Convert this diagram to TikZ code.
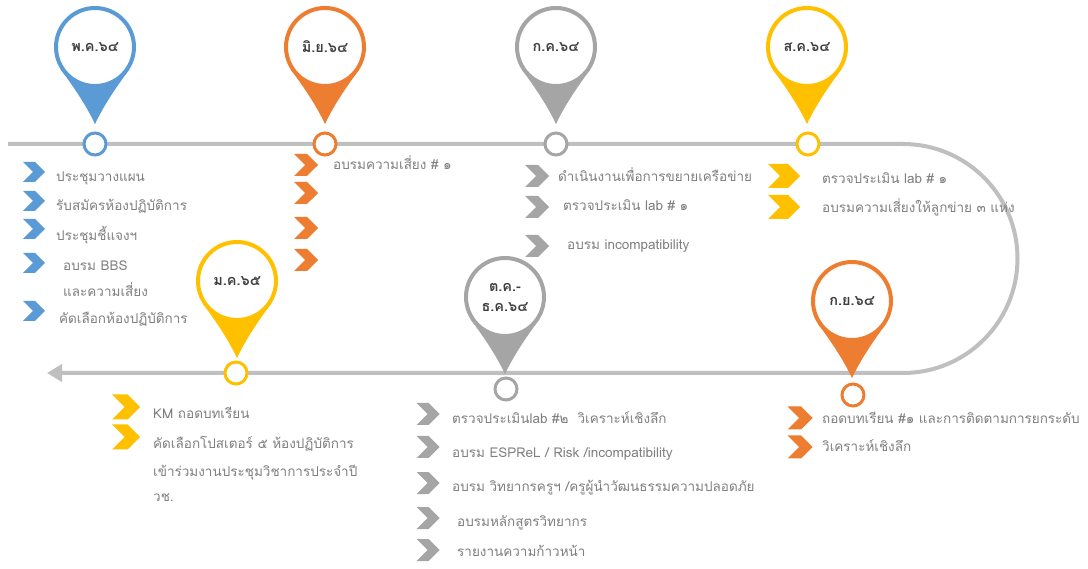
\documentclass[tikz,border=0pt]{standalone}
\usepackage{fontspec}
\setmainfont[Script=Thai]{Loma}
\usetikzlibrary{shapes.symbols,arrows.meta}
\definecolor{cblue}{HTML}{5B9BD5}
\definecolor{corange}{HTML}{ED7D31}
\definecolor{cgray}{HTML}{A5A5A5}
\definecolor{cyellow}{HTML}{FFC000}
\definecolor{cline}{HTML}{BFBFBF}
\definecolor{ctext}{HTML}{7F7F7F}
\definecolor{clabel}{HTML}{404040}
\newcommand\pintail[3]{%
  \fill[#3, shift={(#1)}] (147:#2) .. controls (-0.5*#2,1.0*#2) and (-0.2*#2,1.45*#2) .. (0,1.88*#2)
    .. controls (0.2*#2,1.45*#2) and (0.5*#2,1.0*#2) .. (33:#2) -- cycle;}
\begin{document}
\begin{tikzpicture}[x=1pt,y=-1pt,
  head/.style={circle, draw=#1, line width=4pt, fill=white, minimum size=78pt, inner sep=0pt,
    font=\bfseries\fontsize{14.5}{20}\selectfont, text=clabel, align=center},
  dot/.style={circle, draw=#1, line width=3pt, fill=white, minimum size=22pt, inner sep=0pt},
  chev/.style={shape=signal, signal to=east, signal from=west, fill=#1, inner sep=0pt,
    minimum width=24pt, minimum height=22pt},
  txt/.style={anchor=west, text=ctext, font=\fontsize{13.5}{16}\selectfont, inner sep=0pt,
    text height=9pt, text depth=1pt},
  tl/.style={draw=cline, line width=4pt}
]
\useasboundingbox (0,0) rectangle (1088,569);
\fill[white] (0,0) rectangle (1088,569);
% timeline
\coordinate (ls) at (8,144);
\coordinate (lc) at (903,144);
\coordinate (le) at (47,373);
\draw[tl, -{Triangle[length=15pt,width=17pt]}] (ls) -- (lc)
  arc[start angle=-90, end angle=90, radius=114.5] -- (le);
% pin centres
\coordinate (c1) at (95,47);
\coordinate (c2) at (325,47);
\coordinate (c3) at (556,47);
\coordinate (c4) at (807,47);
\coordinate (c5) at (852,301);
\coordinate (c6) at (505,297);
\coordinate (c7) at (237,281);
\pintail{c1}{41}{cblue}
\pintail{c2}{41}{corange}
\pintail{c3}{41}{cgray}
\pintail{c4}{41}{cyellow}
\pintail{c5}{41}{corange}
\pintail{c6}{41}{cgray}
\pintail{c7}{41}{cyellow}
\node[head=cblue] (p1) at (c1) {พ.ค.๖๔};
\node[head=corange] (p2) at (c2) {มิ.ย.๖๔};
\node[head=cgray] (p3) at (c3) {ก.ค.๖๔};
\node[head=cyellow] (p4) at (c4) {ส.ค.๖๔};
\node[head=corange] (p5) at (c5) {ก.ย.๖๔};
\node[head=cgray] (p6) at (c6) {ต.ค.-\\ธ.ค.๖๔};
\node[head=cyellow] (p7) at (c7) {ม.ค.๖๕};
% dots
\node[dot=cblue] (d1) at (95,144) {};
\node[dot=corange] (d2) at (325,144) {};
\node[dot=cgray] (d3) at (556,144) {};
\node[dot=cyellow] (d4) at (808,144) {};
\node[dot=corange] (d5) at (853,395) {};
\node[dot=cgray] (d6) at (506,389) {};
\node[dot=cyellow] (d7) at (236,373) {};
% blue items
\node[chev=cblue, minimum width=22pt, minimum height=20pt] (b1) at (34,172) {};
\node[chev=cblue, minimum width=22pt, minimum height=20pt] (b2) at (34,201) {};
\node[chev=cblue, minimum width=22pt, minimum height=20pt] (b3) at (34,229) {};
\node[chev=cblue, minimum width=22pt, minimum height=20pt] (b4) at (34,263) {};
\node[chev=cblue, minimum width=22pt, minimum height=20pt] (b5) at (34,311) {};
\node[txt] (t11) at (56,178) {ประชุมวางแผน};
\node[txt] (t12) at (56,207) {รับสมัครห้องปฏิบัติการ};
\node[txt] (t13) at (56,237) {ประชุมชี้แจงฯ};
\node[txt] (t14) at (63,267) {อบรม BBS};
\node[txt] (t15) at (63,293) {และความเสี่ยง};
\node[txt] (t16) at (59,320) {คัดเลือกห้องปฏิบัติการ};
% orange items (June)
\node[chev=corange] (o1) at (306,165) {};
\node[chev=corange] (o2) at (306,193) {};
\node[chev=corange] (o3) at (306,228) {};
\node[chev=corange] (o4) at (306,260) {};
\node[txt] (t21) at (333,166) {อบรมความเสี่ยง \# ๑};
% gray items (July)
\node[chev=cgray] (g1) at (537,176) {};
\node[chev=cgray] (g2) at (537,207) {};
\node[chev=cgray] (g3) at (537,246) {};
\node[txt] (t31) at (558,178) {ดำเนินงานเพื่อการขยายเครือข่าย};
\node[txt] (t32) at (563,207) {ตรวจประเมิน lab \# ๑};
\node[txt] (t33) at (567,246) {อบรม incompatibility};
% yellow items (August)
\node[chev=cyellow, minimum width=32pt, minimum height=24pt] (y1) at (784,176) {};
\node[chev=cyellow, minimum width=32pt, minimum height=24pt] (y2) at (784,207) {};
\node[txt] (t41) at (822,180) {ตรวจประเมิน lab \# ๑};
\node[txt] (t42) at (822,209) {อบรมความเสี่ยงให้ลูกข่าย ๓ แห่ง};
% orange items (September)
\node[chev=corange, minimum width=25pt, minimum height=23pt] (o5) at (800,418) {};
\node[chev=corange, minimum width=25pt, minimum height=23pt] (o6) at (800,447) {};
\node[txt] (t51) at (822,420) {ถอดบทเรียน \#๑ และการติดตามการยกระดับ};
\node[txt] (t52) at (822,448) {วิเคราะห์เชิงลึก};
% gray items (Oct-Dec)
\node[chev=cgray, minimum width=23pt] (g4) at (428,414) {};
\node[chev=cgray, minimum width=23pt] (g5) at (428,447) {};
\node[chev=cgray, minimum width=23pt] (g6) at (428,483) {};
\node[chev=cgray, minimum width=23pt] (g7) at (428,518) {};
\node[chev=cgray, minimum width=23pt] (g8) at (428,550) {};
\node[txt] (t61) at (452,420) {ตรวจประเมินlab \#๒ \ วิเคราะห์เชิงลึก};
\node[txt] (t62) at (452,453) {อบรม ESPReL / Risk /incompatibility};
\node[txt] (t63) at (452,488) {อบรม วิทยากรครูฯ /ครูผู้นำวัฒนธรรมความปลอดภัย};
\node[txt] (t64) at (457,522) {อบรมหลักสูตรวิทยากร};
\node[txt] (t65) at (457,552) {รายงานความก้าวหน้า};
% yellow items (January)
\node[chev=cyellow, minimum width=28pt, minimum height=25pt] (y3) at (126,407) {};
\node[chev=cyellow, minimum width=28pt, minimum height=25pt] (y4) at (126,437) {};
\node[txt] (t71) at (153,415) {KM ถอดบทเรียน};
\node[txt] (t72) at (153,445) {คัดเลือกโปสเตอร์ ๕ ห้องปฏิบัติการ};
\node[txt] (t73) at (153,472) {เข้าร่วมงานประชุมวิชาการประจำปี};
\node[txt] (t74) at (153,497) {วช.};
\end{tikzpicture}
\end{document}
